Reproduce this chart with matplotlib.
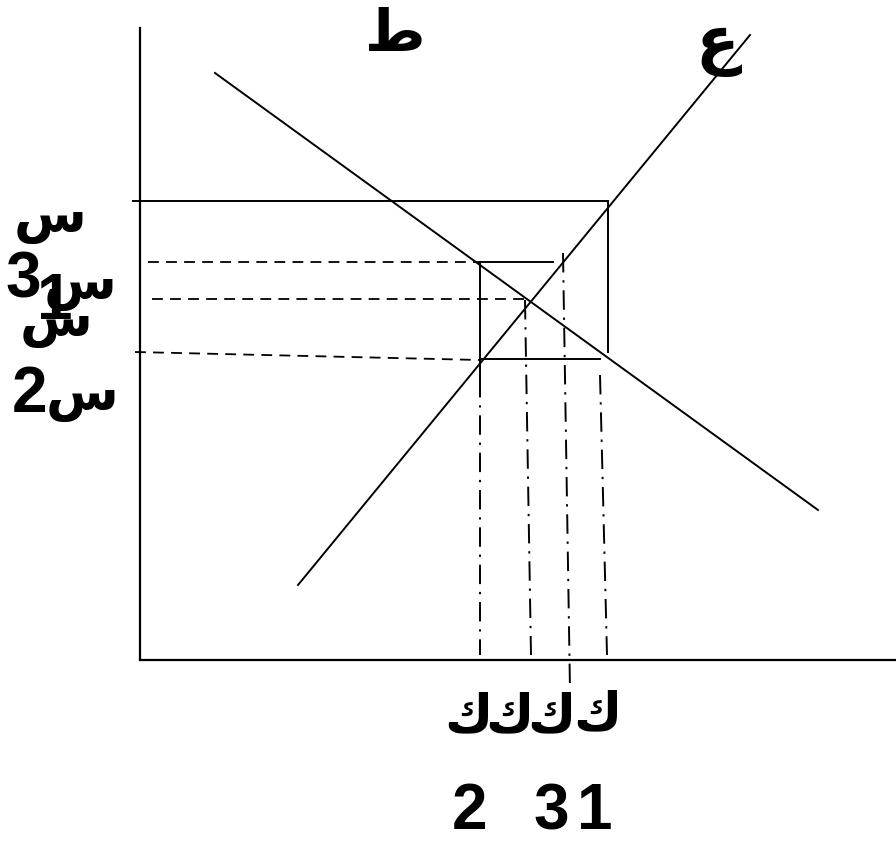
import matplotlib.pyplot as plt

# diagram geometry, in picture pixels (x right, y down)
axis_y = [(140, 28), (140, 660)]
axis_x = [(140, 660), (896, 660)]
demand = [(215, 73), (818, 510)]
supply = [(298, 585), (750, 35)]

solid_lines = [
	[(133, 201), (608, 201)],
	[(608, 201), (608, 352)],
	[(480, 262), (553, 262)],
	[(480, 262), (480, 378)],
	[(480, 359), (600, 359)],
]
dashed_lines = [
	[(148, 262), (480, 262)],
	[(152, 299), (526, 299)],
	[(135, 352), (480, 360)],
]
dashdot_lines = [
	[(480, 378), (480, 655)],
	[(525, 300), (531, 655)],
	[(563, 253), (570, 690)],
	[(600, 375), (607, 655)],
]

# labels: (text, x, y, size)
arabic_labels = [
	("ط", 395, 34, 42),
	("ع", 717, 46, 46),
	("س", 50, 218, 38),
	("س", 80, 285, 38),
	("س", 56, 322, 38),
	("س", 82, 396, 38),
	("ك", 468, 716, 38),
	("ك", 509, 716, 38),
	("ك", 551, 716, 38),
	("ك", 597, 714, 38),
]
digit_labels = [
	("3", 23, 281),
	("1", 55, 302),
	("2", 30, 395),
	("2", 469, 812),
	("3", 551, 812),
	("1", 595, 812),
]

def draw(ax, pts, **kw):
	xs=[p[0] for p in pts]
	ys=[p[1] for p in pts]
	ax.plot(xs, ys, color="black", **kw)

def main():
	fig=plt.figure(figsize=(8.96, 8.41), dpi=100)
	ax=fig.add_axes([0, 0, 1, 1])
	ax.set_xlim(0, 896)
	ax.set_ylim(841, 0)
	ax.axis("off")

	draw(ax, axis_y, lw=1.6)
	draw(ax, axis_x, lw=1.6)
	draw(ax, demand, lw=1.4)
	draw(ax, supply, lw=1.4)
	for seg in solid_lines:
		draw(ax, seg, lw=1.4)
	for seg in dashed_lines:
		draw(ax, seg, lw=1.3, dashes=(6, 4))
	for seg in dashdot_lines:
		draw(ax, seg, lw=1.4, dashes=(10, 4, 1.2, 4))

	for t, x, y, s in arabic_labels:
		ax.text(x, y, t, fontsize=s, fontweight="bold", family="DejaVu Sans",
			ha="center", va="center")
	for t, x, y in digit_labels:
		ax.text(x, y, t, fontsize=46, fontweight="bold", family="Liberation Sans",
			ha="center", va="center")

	fig.savefig("out.png", dpi=100)
	plt.close(fig)

if __name__=="__main__":
	main()
